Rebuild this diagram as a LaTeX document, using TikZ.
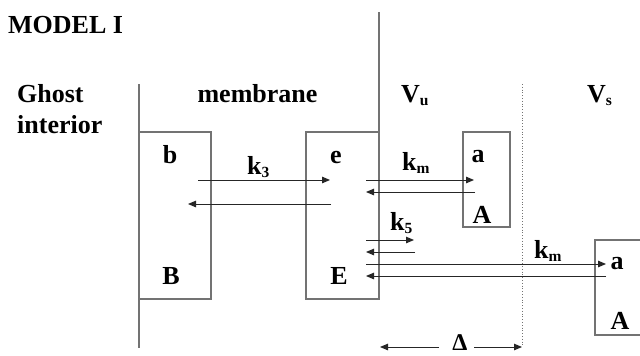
\documentclass[tikz,border=0pt]{standalone}
\usepackage{fontspec}
\setmainfont{Liberation Serif}
\usetikzlibrary{arrows.meta}
\newcommand\sbs[1]{\raisebox{-0.3ex}{\fontsize{15.5}{15.5}\selectfont #1}}
\begin{document}
\begin{tikzpicture}[x=1pt,y=-1pt,
  font=\fontsize{26}{30}\selectfont\bfseries,
  wall/.style={draw=black!55, line width=1.3pt},
  flow/.style={draw=black!85, line width=1pt, -{Triangle[length=8pt,width=6.5pt]}},
  lbl/.style={inner sep=0pt, anchor=base}]
\useasboundingbox (0,0) rectangle (640,356);
\fill[white] (0,0) rectangle (640,356);

% walls and compartments
\draw[wall] (139,84) -- (139,348);
\draw[wall] (139,132) rectangle (211,299);
\draw[wall] (306,132) rectangle (379,299);
\draw[wall] (379,12) -- (379,132);
\draw[wall] (463,132) rectangle (510,227);
\draw[draw=black!55, line width=0.8pt, dotted] (522,84) -- (522,347);
\begin{scope}
  \clip (0,0) rectangle (640,356);
  \draw[wall] (595,240) rectangle (670,335);
\end{scope}

% labels
\node[lbl, anchor=base west] (title) at (8,33) {MODEL I};
\node[lbl, anchor=base west] (ghost) at (17,102) {Ghost};
\node[lbl, anchor=base west] (inter) at (17,133) {interior};
\node[lbl] (memb) at (257.5,102) {membrane};
\node[lbl, anchor=base west] (vu) at (401,102) {V\sbs{u}};
\node[lbl, anchor=base west] (vs) at (587,102) {V\sbs{s}};
\node[lbl] (lb) at (170,163) {b};
\node[lbl] (le) at (336,163) {e};
\node[lbl, anchor=base west] (k3) at (247,174) {k\sbs{3}};
\node[lbl, anchor=base west] (km1) at (402,170) {k\sbs{m}};
\node[lbl] (la) at (478,162) {a};
\node[lbl] (lA) at (482,223) {A};
\node[lbl, anchor=base west] (k5) at (390,230) {k\sbs{5}};
\node[lbl] (lB) at (171,284) {B};
\node[lbl] (lE) at (339,284) {E};
\node[lbl, anchor=base west] (km2) at (534,258) {k\sbs{m}};
\node[lbl] (la2) at (617,269) {a};
\node[lbl] (lA2) at (620,329) {A};
\node[lbl, font=\fontsize{24}{28}\selectfont\bfseries] (delta) at (460,350) {Δ};

% arrow end points
\coordinate (b1) at (198,180); \coordinate (e1) at (330,180);
\coordinate (e2) at (331,204); \coordinate (b2) at (188,204);
\coordinate (u1) at (366,180); \coordinate (a1) at (474,180);
\coordinate (a2) at (475,192); \coordinate (u2) at (366,192);
\coordinate (f1) at (366,240); \coordinate (f2) at (414,240);
\coordinate (g1) at (415,252); \coordinate (g2) at (366,252);
\coordinate (s1) at (366,264); \coordinate (s2) at (606,264);
\coordinate (t1) at (606,276); \coordinate (t2) at (366,276);
\coordinate (dl0) at (439,347); \coordinate (dl) at (380,347);
\coordinate (dr0) at (474,347); \coordinate (dr) at (522,347);

\draw[flow] (b1) -- (e1);
\draw[flow] (e2) -- (b2);
\draw[flow] (u1) -- (a1);
\draw[flow] (a2) -- (u2);
\draw[flow] (f1) -- (f2);
\draw[flow] (g1) -- (g2);
\draw[flow] (s1) -- (s2);
\draw[flow] (t1) -- (t2);
\draw[flow] (dl0) -- (dl);
\draw[flow] (dr0) -- (dr);
\end{tikzpicture}
\end{document}
